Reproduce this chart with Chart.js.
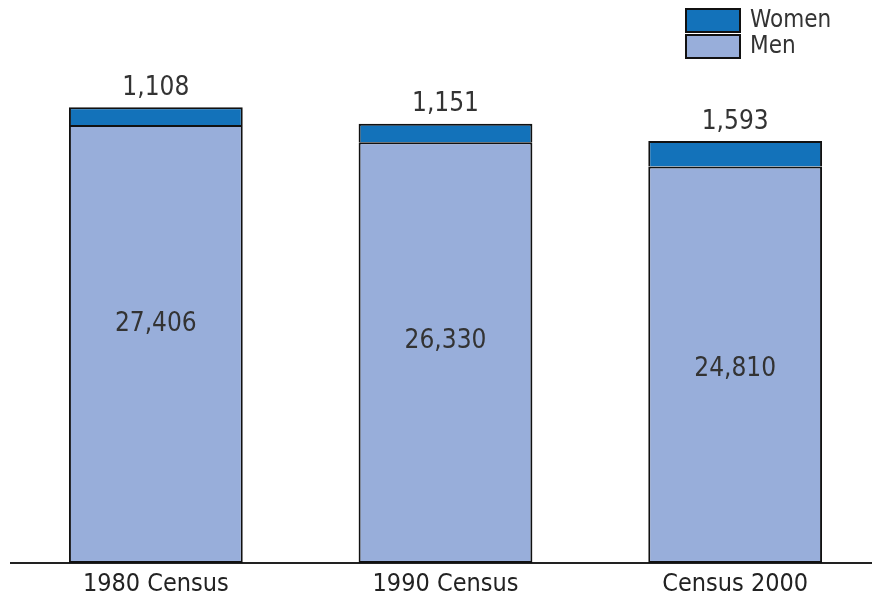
<!DOCTYPE html>
<html>
<head>
<meta charset="utf-8">
<script src="https://cdn.jsdelivr.net/npm/chart.js@4"></script>
<style>
  html, body { margin: 0; padding: 0; background: #fff; overflow: hidden; }
  #wrap { width: 880px; height: 600px; }
</style>
</head>
<body>
<div id="wrap"><canvas id="censusChart" width="880" height="600"></canvas></div>
<script>
// --- Chart data ---
const categories = ['1980 Census', '1990 Census', 'Census 2000'];
const menValues = [27406, 26330, 24810];
const womenValues = [1108, 1151, 1593];

const FONT = '"DejaVu Sans Condensed", "DejaVu Sans", sans-serif';
const TEXT = '#333333';

// value labels: men inside the bar, women above the stack
const menLabelShift = [-20, -11, 5]; // the original does not sit them exactly mid-bar
const valueLabels = {
    id: 'valueLabels',
    afterDatasetsDraw(chart) {
        const ctx = chart.ctx;
        ctx.save();
        ctx.fillStyle = TEXT;
        ctx.textAlign = 'center';
        ctx.textBaseline = 'middle';
        ctx.font = '26px ' + FONT;
        chart.getDatasetMeta(0).data.forEach((bar, i) => {
            ctx.fillText(menValues[i].toLocaleString('en-US'), bar.x, (bar.y + bar.base) / 2 + menLabelShift[i]);
        });
        chart.getDatasetMeta(1).data.forEach((bar, i) => {
            ctx.fillText(womenValues[i].toLocaleString('en-US'), bar.x, bar.y - 19);
        });
        ctx.restore();
    }
};

// simple stacked legend in the top right corner
const cornerLegend = {
    id: 'cornerLegend',
    afterDraw(chart) {
        const ctx = chart.ctx;
        const items = chart.data.datasets.slice().reverse();
        ctx.save();
        ctx.font = '24px ' + FONT;
        ctx.textBaseline = 'middle';
        items.forEach((ds, i) => {
            const y = 9 + i * 26;
            ctx.fillStyle = ds.backgroundColor;
            ctx.fillRect(686, y, 54, 23);
            ctx.lineWidth = 2;
            ctx.strokeStyle = '#111';
            ctx.strokeRect(686, y, 54, 23);
            ctx.fillStyle = TEXT;
            ctx.fillText(ds.label, 750, y + 12);
        });
        ctx.restore();
    }
};

new Chart(document.getElementById('censusChart'), {
    type: 'bar',
    data: {
        labels: categories,
        datasets: [
            {
                label: 'Men',
                data: menValues,
                backgroundColor: '#98AEDA',
                borderColor: '#111',
                borderWidth: 2,
                borderSkipped: false
            },
            {
                label: 'Women',
                data: womenValues,
                backgroundColor: '#1372BA',
                borderColor: '#111',
                borderWidth: 2,
                borderSkipped: 'bottom'
            }
        ]
    },
    options: {
        responsive: false,
        animation: false,
        devicePixelRatio: 1,
        layout: { padding: { left: 11, right: 0, top: 40, bottom: 0 } },
        datasets: { bar: { barPercentage: 1, categoryPercentage: 0.6 } },
        plugins: {
            legend: { display: false },
            tooltip: { enabled: false }
        },
        scales: {
            x: {
                stacked: true,
                grid: { display: false, drawTicks: false },
                border: { display: true, color: '#222', width: 2 },
                ticks: { color: '#222', font: { family: FONT, size: 25 }, padding: 6 },
                afterFit(scale) { scale.height = 37; }
            },
            y: {
                stacked: true,
                display: false,
                min: 0,
                max: 32720
            }
        }
    },
    plugins: [valueLabels, cornerLegend]
});
</script>
</body>
</html>
